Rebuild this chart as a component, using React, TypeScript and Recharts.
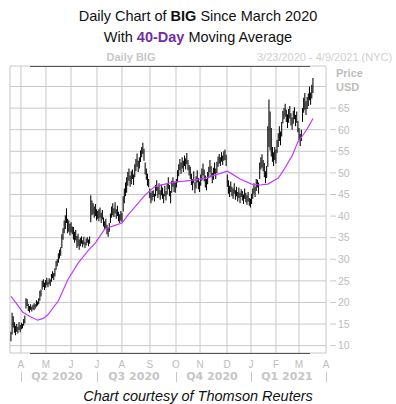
import React from 'react';
import { ComposedChart, Bar, Line, XAxis, YAxis, CartesianGrid } from 'recharts';

// daily low / high, one entry per trading day from 3/23/2020 to 4/9/2021
const lows = [
  11.0, 12.6, 14.2, 13.0, 12.4, 13.2, 12.8, 13.6, 13.1, 13.8, 14.0, 14.6, 15.2,
  18.6, 19.2, 18.0, 17.7, 18.3, 17.9, 18.4, 18.2, 18.6, 19.0, 19.3, 19.6, 20.4, 21.4,
  23.0, 23.6, 22.9, 23.4, 24.0, 23.5, 24.2, 23.8, 24.8, 25.6, 25.2, 26.0,
  27.6, 28.4, 29.2, 30.2, 30.8, 32.6, 34.5, 36.0, 37.0, 38.4, 36.0,
  36.4, 35.5, 36.2, 35.8, 34.6, 33.8, 34.4, 32.6, 33.0, 32.2,
  33.0, 33.6, 32.8, 33.4, 32.6, 33.2, 33.8, 33.0, 33.6, 38.6, 40.2,
  40.4, 39.6, 40.0, 39.0, 39.4, 38.8, 39.6, 38.4, 39.2,
  37.6, 36.8, 37.2, 35.8, 35.2, 36.4,
  38.4, 39.6, 40.2, 39.8, 40.6, 39.4, 40.0, 38.8, 38.4, 39.0, 38.6,
  41.0, 43.0, 44.6, 45.4, 47.0, 48.2, 46.8, 47.4, 48.6, 47.2,
  49.0, 50.4, 51.4, 50.2, 51.0, 52.5, 53.6, 54.4, 52.8,
  49.6, 48.4, 47.0, 46.7, 44.2, 43.0, 43.6, 44.4, 43.4,
  44.6, 45.8, 44.2, 45.0, 43.8, 44.8, 44.0, 43.0, 44.6, 43.6,
  45.0, 46.2, 44.6, 43.0, 45.4, 46.8, 45.6, 45.4, 46.6, 47.8,
  49.2, 50.6, 49.8, 51.0, 50.2, 51.6, 50.8, 52.0, 50.6, 49.4,
  48.6, 47.2, 46.0, 47.6, 45.3, 46.4, 47.8, 46.2, 45.6, 47.0,
  48.2, 49.4, 48.0, 46.6, 46.0, 47.4, 48.8, 50.2, 49.0, 47.6, 48.4, 49.8, 48.6, 50.0,
  51.4, 52.2, 51.6, 52.6, 51.8, 52.8, 53.0, 51.6,
  46.8, 45.2, 44.4, 45.6, 44.6,
  44.0, 45.2, 43.8, 44.6, 43.4, 44.2, 43.0, 44.4, 43.6, 42.8, 44.0, 43.2, 42.6, 43.4, 42.4,
  42.0, 42.8, 44.0, 45.2, 44.4, 45.8, 46.6, 45.2,
  48.6, 50.8, 51.2, 50.4, 49.0, 47.6, 48.8,
  51.4, 56.0, 55.2, 53.8, 52.6, 51.6, 53.0, 52.2,
  54.6, 56.0, 57.4, 56.4, 58.4, 61.5, 62.4, 63.0, 61.8,
  60.4, 61.6, 62.6, 61.0, 60.0, 61.4, 62.4, 60.8, 61.6, 59.4,
  57.6, 56.2, 57.4,
  61.8, 63.9, 64.6, 63.4, 64.8, 65.5, 66.8, 65.8, 67.2, 68.5,
];

const highs = [
  13.2, 17.6, 16.8, 15.4, 14.6, 15.0, 14.4, 15.5, 14.8, 15.3, 15.0, 16.2, 17.0,
  21.0, 20.8, 19.7, 19.2, 19.6, 19.0, 19.5, 19.8, 19.6, 20.5, 20.2, 21.0, 22.7, 23.0,
  25.0, 25.4, 24.6, 25.2, 25.7, 24.8, 25.6, 25.3, 26.6, 27.2, 26.8, 27.9,
  29.6, 30.0, 31.4, 32.2, 32.8, 35.8, 37.2, 39.0, 40.2, 41.8, 39.4,
  39.0, 38.2, 38.6, 37.6, 37.5, 36.4, 36.8, 35.4, 35.9, 34.6,
  35.0, 35.3, 34.4, 35.2, 34.0, 34.8, 35.1, 34.6, 35.3, 44.8, 43.6,
  43.0, 42.2, 42.8, 41.6, 41.2, 41.6, 42.0, 40.8, 41.4,
  39.7, 38.8, 39.4, 38.0, 37.4, 38.4,
  40.6, 42.2, 43.0, 41.8, 43.2, 41.6, 42.4, 41.0, 40.4, 41.2, 40.8,
  44.6, 46.4, 47.8, 49.0, 50.2, 51.0, 49.4, 50.4, 50.8, 49.6,
  52.0, 53.2, 54.5, 52.8, 53.6, 55.2, 56.0, 57.0, 55.6,
  52.4, 51.0, 49.8, 48.6, 46.4, 45.4, 45.8, 46.0, 45.2,
  47.2, 48.3, 46.8, 47.6, 46.0, 47.4, 46.6, 45.2, 47.0, 45.8,
  47.6, 49.0, 47.2, 45.8, 48.2, 49.0, 48.0, 47.8, 48.6, 50.6,
  52.0, 53.2, 52.4, 53.6, 52.8, 54.0, 53.4, 54.6, 53.0, 51.8,
  51.4, 49.8, 48.6, 50.4, 47.8, 49.2, 50.6, 48.8, 48.0, 49.6,
  51.0, 52.2, 50.8, 49.4, 48.6, 50.2, 51.4, 53.0, 51.6, 50.0, 51.2, 52.4, 51.0, 52.6,
  53.8, 54.4, 53.6, 54.8, 54.0, 55.0, 55.4, 54.2,
  49.6, 48.3, 47.0, 48.0, 46.8,
  46.4, 47.6, 46.0, 46.8, 45.6, 46.6, 45.4, 46.2, 45.8, 45.0, 46.4, 45.4, 44.8, 45.6, 44.2,
  44.0, 45.2, 46.4, 47.6, 46.8, 48.6, 48.4, 47.8,
  52.4, 53.6, 54.3, 53.0, 52.3, 50.4, 51.6,
  60.8, 67.0, 64.2, 60.4, 56.0, 54.8, 56.0, 55.4,
  57.6, 59.2, 60.8, 59.6, 61.8, 64.4, 65.0, 66.0, 64.6,
  63.6, 64.8, 65.5, 63.8, 62.8, 64.4, 65.2, 63.4, 64.2, 62.0,
  60.4, 59.0, 60.0,
  65.0, 67.4, 68.5, 66.6, 67.6, 68.4, 70.0, 68.6, 70.4, 72.0,
];

// 40-day moving average, read at these trading-day indexes
const maIndex = [0, 4, 10, 16, 23, 28, 32, 41, 49, 58, 67, 73, 81, 89, 96, 101, 107, 116, 124, 133,
  142, 150, 159, 168, 176, 187, 192, 198, 208, 215, 222, 231, 236, 243, 248, 252, 256, 261];
const maValues = [21.4, 20.0, 17.8, 16.8, 15.9, 16.3, 17.2, 20.4, 25.2, 29.1, 32.1, 33.8, 37.0, 37.8, 38.4, 40.2, 42.1, 44.9, 46.8, 47.4,
  47.9, 48.1, 48.4, 48.8, 49.5, 50.4, 49.6, 48.6, 47.4, 47.2, 47.4, 48.8, 50.8, 54.0, 57.2, 58.6, 60.2, 62.6];

// month starts, in trading-day units
const monthTicks = [8.6, 30.2, 51.9, 74.3, 95.9, 120.1, 142.6, 163.4, 186.7, 207.4, 229, 248.9, 272.25];
const monthLabels = ['A', 'M', 'J', 'J', 'A', 'S', 'O', 'N', 'D', 'J', 'F', 'M', 'A'];
const quarterLabels = ['Q2 2020', 'Q3 2020', 'Q4 2020', 'Q1 2021'];
const priceTicks = [10, 15, 20, 25, 30, 35, 40, 45, 50, 55, 60, 65, 70];

const bars = lows.map((lo, i) => ({ i, range: [lo, highs[i]] }));
const maData = maIndex.map((i, k) => ({ i, ma: maValues[k] }));

const GRID = '#c8c8c8';
const LABEL = '#bdbdbd';
const SANS = '"Liberation Sans", Arial, sans-serif';

const PriceTick = (props: any) => {
  const { x, y, payload } = props;
  if (payload.value > 65) return <g />;
  return (
    <g>
      <line x1={x + 4} x2={x + 10} y1={y} y2={y} stroke={GRID} />
      <text x={x + 12} y={y} dy={3.8} fill={LABEL} fontSize={10.5} fontFamily={SANS}>
        {payload.value}
      </text>
    </g>
  );
};

const abs = (style: React.CSSProperties): React.CSSProperties => ({ position: 'absolute', ...style });

const App: React.FC = () => {
  const qCenters = [57, 134, 212, 287];
  const qSeps = [21, 97, 176, 251, 326];
  return (
    <div style={{ position: 'absolute', left: 0, top: 0, width: 396, height: 404, background: '#fff', fontFamily: SANS }}>
      <div style={abs({ top: 8, left: 0, width: 396, textAlign: 'center', fontSize: 14.5, lineHeight: '16px', color: '#111' })}>
        Daily Chart of <b>BIG</b> Since March 2020
      </div>
      <div style={abs({ top: 29, left: 0, width: 396, textAlign: 'center', fontSize: 14.5, lineHeight: '16px', color: '#111' })}>
        With <b style={{ color: '#7030a0' }}>40-Day</b> Moving Average
      </div>
      <div style={abs({ top: 51, left: 81, width: 100, textAlign: 'center', fontSize: 11, lineHeight: '13px', fontWeight: 'bold', color: '#c8c8c8' })}>
        Daily BIG
      </div>
      <div style={abs({ top: 51, left: 257, fontSize: 11, lineHeight: '13px', color: '#cfcfcf', whiteSpace: 'nowrap' })}>
        3/23/2020 - 4/9/2021 (NYC)
      </div>
      <div style={abs({ top: 67, left: 336, fontSize: 11, lineHeight: '13px', fontWeight: 'bold', color: LABEL })}>Price</div>
      <div style={abs({ top: 81, left: 336, fontSize: 11, lineHeight: '13px', fontWeight: 'bold', color: LABEL })}>USD</div>

      <div style={abs({ top: 0, left: 0 })}>
        <ComposedChart width={396} height={404} data={bars} margin={{ top: 66, right: 10, bottom: 31, left: 10 }}>
          <CartesianGrid stroke={GRID} strokeWidth={1} />
          <XAxis
            dataKey="i"
            type="number"
            domain={[-0.86, 272.25]}
            ticks={monthTicks}
            interval={0}
            height={20}
            tickFormatter={(v: number) => monthLabels[monthTicks.indexOf(v)]}
            tickLine={false}
            axisLine={false}
            tickSize={0}
            tickMargin={8}
            tick={{ fill: LABEL, fontSize: 10, fontFamily: SANS }}
          />
          <YAxis
            orientation="right"
            width={60}
            domain={[8.3, 74.75]}
            ticks={priceTicks}
            interval={0}
            tickLine={false}
            axisLine={false}
            tickSize={0}
            tickMargin={0}
            tick={<PriceTick />}
          />
          <Bar dataKey="range" barSize={2} fill="#000" isAnimationActive={false} />
          <Line data={maData} dataKey="ma" type="linear" stroke="#c23cff" strokeWidth={1.2} dot={false} isAnimationActive={false} />
        </ComposedChart>
      </div>

      <div style={abs({ top: 66, left: 30, width: 280, height: 1, background: '#555' })} />
      <div style={abs({ top: 353, left: 30, width: 280, height: 1, background: '#555' })} />

      {quarterLabels.map((q, k) => (
        <div key={q} style={abs({ top: 370, left: qCenters[k] - 40, width: 80, textAlign: 'center', fontSize: 11, lineHeight: '13px', fontWeight: 'bold', color: '#c6c6c6', fontFamily: '"DejaVu Sans", sans-serif' })}>
          {q}
        </div>
      ))}
      {qSeps.map((x) => (
        <div key={x} style={abs({ top: 372, left: x, width: 1, height: 10, background: '#c6c6c6' })} />
      ))}

      <div style={abs({ top: 388, left: 0, width: 396, textAlign: 'center', fontSize: 14.5, lineHeight: '16px', fontStyle: 'italic', color: '#111' })}>
        Chart courtesy of Thomson Reuters
      </div>
    </div>
  );
};

export default App;
